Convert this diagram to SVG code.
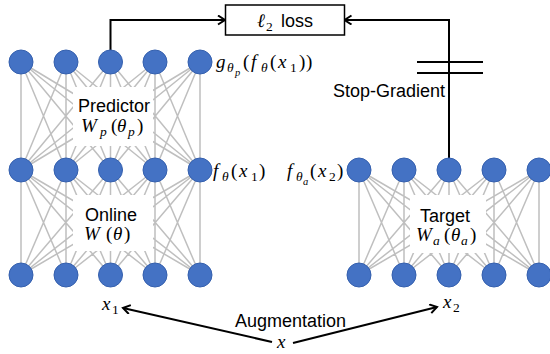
<svg xmlns="http://www.w3.org/2000/svg" width="550" height="354" viewBox="0 0 550 354">
  <defs>
    <style>
      .edge { stroke: #BFBFBF; stroke-width: 1.5; fill: none; }
      .node { fill: #4472C4; stroke: #3560AE; stroke-width: 1; }
      .mask { fill: #FFFFFF; stroke: none; }
      .flow { stroke: #000000; stroke-width: 2; fill: none; }
      .sans { font-family: "Liberation Sans", Arial, sans-serif; font-size: 18px; fill: #000000; }
      .math { font-family: "Liberation Serif", "Times New Roman", serif; font-size: 19px; fill: #000000; }
      .it { font-style: italic; }
      .sub { font-size: 13.5px; }
      .sub2 { font-size: 10.5px; }
    </style>
    <marker id="open-arrow" markerUnits="userSpaceOnUse" markerWidth="12" markerHeight="12" refX="8" refY="5" orient="auto">
      <path d="M1,0.5 L8,5 L1,9.5" fill="none" stroke="#000000" stroke-width="2"/>
    </marker>
  </defs>

  <rect width="550" height="354" fill="#FFFFFF"/>

  <!-- fully connected layers (gray weights), drawn beneath the nodes -->
  <g id="connectors">
    <g id="predictor-weights">
      <path class="edge" d="M21,62 L21,170 M21,62 L66,170 M21,62 L110.5,170 M21,62 L155,170 M21,62 L200,170
        M66,62 L21,170 M66,62 L66,170 M66,62 L110.5,170 M66,62 L155,170 M66,62 L200,170
        M110.5,62 L21,170 M110.5,62 L66,170 M110.5,62 L110.5,170 M110.5,62 L155,170 M110.5,62 L200,170
        M155,62 L21,170 M155,62 L66,170 M155,62 L110.5,170 M155,62 L155,170 M155,62 L200,170
        M200,62 L21,170 M200,62 L66,170 M200,62 L110.5,170 M200,62 L155,170 M200,62 L200,170"/>
    </g>
    <g id="online-weights">
      <path class="edge" d="M21,170 L21,275 M21,170 L66,275 M21,170 L110.5,275 M21,170 L155,275 M21,170 L200,275
        M66,170 L21,275 M66,170 L66,275 M66,170 L110.5,275 M66,170 L155,275 M66,170 L200,275
        M110.5,170 L21,275 M110.5,170 L66,275 M110.5,170 L110.5,275 M110.5,170 L155,275 M110.5,170 L200,275
        M155,170 L21,275 M155,170 L66,275 M155,170 L110.5,275 M155,170 L155,275 M155,170 L200,275
        M200,170 L21,275 M200,170 L66,275 M200,170 L110.5,275 M200,170 L155,275 M200,170 L200,275"/>
    </g>
    <g id="target-weights">
      <path class="edge" d="M359,170 L359,275 M359,170 L404,275 M359,170 L449,275 M359,170 L494,275 M359,170 L539,275
        M404,170 L359,275 M404,170 L404,275 M404,170 L449,275 M404,170 L494,275 M404,170 L539,275
        M449,170 L359,275 M449,170 L404,275 M449,170 L449,275 M449,170 L494,275 M449,170 L539,275
        M494,170 L359,275 M494,170 L404,275 M494,170 L449,275 M494,170 L494,275 M494,170 L539,275
        M539,170 L359,275 M539,170 L404,275 M539,170 L449,275 M539,170 L494,275 M539,170 L539,275"/>
    </g>

    <!-- prediction and target outputs feeding the loss -->
    <path id="to-loss-left" class="flow" d="M110.5,62 L110.5,20 L225,20" marker-end="url(#open-arrow)"/>
    <path id="to-loss-right" class="flow" d="M449,170 L449,20 L344.5,20" marker-end="url(#open-arrow)"/>

    <!-- stop-gradient break marks -->
    <path id="stop-gradient-bars" class="flow" d="M417,62 L483,62 M417,73 L483,73"/>

    <!-- augmentation arrows from x to the two views -->
    <path id="aug-left" class="flow" d="M272,342 L123,308" marker-end="url(#open-arrow)"/>
    <path id="aug-right" class="flow" d="M293,343 L437,307" marker-end="url(#open-arrow)"/>
  </g>

  <!-- label panels over the weights -->
  <g id="predictor-label">
    <rect class="mask" x="73" y="87" width="80" height="59"/>
    <text class="sans" x="114" y="112" text-anchor="middle">Predictor</text>
    <text class="math"><tspan class="it" x="81" y="132">W</tspan><tspan class="it sub" x="100" y="136">p</tspan><tspan x="111" y="132">(</tspan><tspan class="it" x="117" y="132">θ</tspan><tspan class="it sub" x="128" y="136">p</tspan><tspan x="137" y="132">)</tspan></text>
  </g>
  <g id="online-label">
    <rect class="mask" x="73" y="195" width="80" height="56"/>
    <text class="sans" x="111" y="221" text-anchor="middle">Online</text>
    <text class="math"><tspan class="it" x="84" y="240">W</tspan><tspan x="106" y="240">(</tspan><tspan class="it" x="113" y="240">θ</tspan><tspan x="124" y="240">)</tspan></text>
  </g>
  <g id="target-label">
    <rect class="mask" x="410" y="195" width="76" height="58"/>
    <text class="sans" x="445" y="222" text-anchor="middle">Target</text>
    <text class="math"><tspan class="it" x="416" y="241">W</tspan><tspan class="it sub" x="433" y="245">a</tspan><tspan x="444" y="241">(</tspan><tspan class="it" x="451" y="241">θ</tspan><tspan class="it sub" x="461" y="245">a</tspan><tspan x="470" y="241">)</tspan></text>
  </g>

  <!-- predictor output layer -->
  <g id="predictor-out">
    <circle class="node" cx="21" cy="62" r="12"/>
    <circle class="node" cx="66" cy="62" r="12"/>
    <circle class="node" cx="110.5" cy="62" r="12"/>
    <circle class="node" cx="155" cy="62" r="12"/>
    <circle class="node" cx="200" cy="62" r="12"/>
  </g>
  <!-- online encoder output layer -->
  <g id="online-out">
    <circle class="node" cx="21" cy="170" r="12"/>
    <circle class="node" cx="66" cy="170" r="12"/>
    <circle class="node" cx="110.5" cy="170" r="12"/>
    <circle class="node" cx="155" cy="170" r="12"/>
    <circle class="node" cx="200" cy="170" r="12"/>
  </g>
  <!-- online encoder input layer -->
  <g id="online-in">
    <circle class="node" cx="21" cy="275" r="12"/>
    <circle class="node" cx="66" cy="275" r="12"/>
    <circle class="node" cx="110.5" cy="275" r="12"/>
    <circle class="node" cx="155" cy="275" r="12"/>
    <circle class="node" cx="200" cy="275" r="12"/>
  </g>
  <!-- target encoder output layer -->
  <g id="target-out">
    <circle class="node" cx="359" cy="170" r="12"/>
    <circle class="node" cx="404" cy="170" r="12"/>
    <circle class="node" cx="449" cy="170" r="12"/>
    <circle class="node" cx="494" cy="170" r="12"/>
    <circle class="node" cx="539" cy="170" r="12"/>
  </g>
  <!-- target encoder input layer -->
  <g id="target-in">
    <circle class="node" cx="359" cy="275" r="12"/>
    <circle class="node" cx="404" cy="275" r="12"/>
    <circle class="node" cx="449" cy="275" r="12"/>
    <circle class="node" cx="494" cy="275" r="12"/>
    <circle class="node" cx="539" cy="275" r="12"/>
  </g>

  <!-- loss -->
  <g id="loss">
    <rect x="225.5" y="5" width="119" height="30" fill="#FFFFFF" stroke="#000000" stroke-width="1.5"/>
    <text class="math"><tspan class="it" x="257" y="27">ℓ</tspan><tspan class="sub" x="266" y="31">2</tspan></text>
    <text class="sans" x="281" y="27">loss</text>
  </g>

  <!-- annotations -->
  <g id="labels">
    <text class="math"><tspan class="it" x="216" y="68">g</tspan><tspan class="it sub" x="227" y="72">θ</tspan><tspan class="it sub2" x="235" y="76">p</tspan><tspan x="243" y="68">(</tspan><tspan class="it" x="251" y="68">f</tspan><tspan class="it sub" x="261" y="72">θ</tspan><tspan x="270" y="68">(</tspan><tspan class="it" x="278" y="68">x</tspan><tspan class="sub" x="290" y="72">1</tspan><tspan x="299" y="68">)</tspan><tspan x="306" y="68">)</tspan></text>
    <text class="math"><tspan class="it" x="213" y="177">f</tspan><tspan class="it sub" x="222" y="181">θ</tspan><tspan x="231" y="177">(</tspan><tspan class="it" x="239" y="177">x</tspan><tspan class="sub" x="251" y="181">1</tspan><tspan x="259" y="177">)</tspan></text>
    <text class="math"><tspan class="it" x="287" y="177">f</tspan><tspan class="it sub" x="296" y="181">θ</tspan><tspan class="it sub2" x="303" y="185">a</tspan><tspan x="310" y="177">(</tspan><tspan class="it" x="318" y="177">x</tspan><tspan class="sub" x="329" y="181">2</tspan><tspan x="337" y="177">)</tspan></text>
    <text class="sans" x="333" y="97">Stop-Gradient</text>
    <text class="sans" x="235" y="327">Augmentation</text>
    <text class="math"><tspan class="it" x="102" y="310">x</tspan><tspan class="sub" x="112" y="314">1</tspan></text>
    <text class="math"><tspan class="it" x="443" y="308">x</tspan><tspan class="sub" x="453" y="312">2</tspan></text>
    <text class="math it" x="277" y="348">x</text>
  </g>
</svg>
